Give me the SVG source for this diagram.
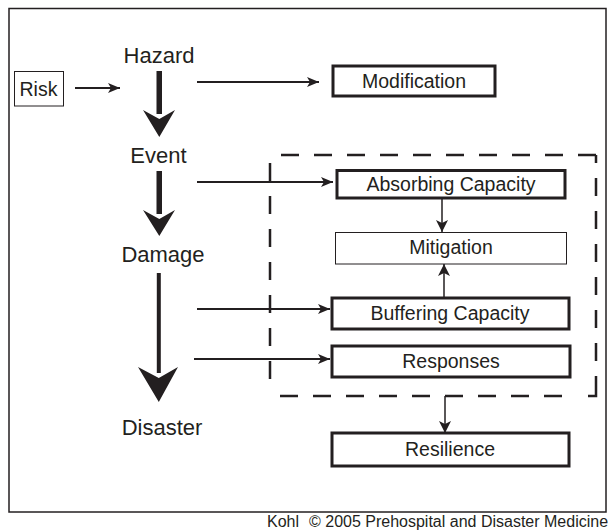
<svg xmlns="http://www.w3.org/2000/svg" width="608" height="531" viewBox="0 0 608 531">
<style>
  text { font-family: "Liberation Sans", Arial, sans-serif; fill: #231f20; }
  .stage { font-size: 22px; text-anchor: middle; }
  .lbl { font-size: 19.5px; text-anchor: middle; }
  .box { fill: #fff; stroke: #231f20; stroke-width: 3; }
  .thin { fill: #fff; stroke: #231f20; stroke-width: 1; }
  .harrow { stroke: #231f20; stroke-width: 2.2; fill: none; marker-end: url(#ah); }
  .varrow { stroke: #231f20; stroke-width: 1.5; fill: none; marker-end: url(#av); }
  .dash { stroke: #231f20; stroke-width: 2.5; fill: none; stroke-dasharray: 18 15; }
  .big { fill: #231f20; }
</style>
<defs>
  <marker id="ah" viewBox="0 0 12 10" refX="12" refY="5" markerWidth="12" markerHeight="10" markerUnits="userSpaceOnUse" orient="auto">
    <path d="M0,0 L12,5 L0,10 L3,5 Z" fill="#231f20"/>
  </marker>
  <marker id="av" viewBox="0 0 12 12" refX="12" refY="6" markerWidth="12" markerHeight="12" markerUnits="userSpaceOnUse" orient="auto">
    <path d="M0,0 L12,6 L0,12 L3,6 Z" fill="#231f20"/>
  </marker>
</defs>
<rect x="0" y="0" width="608" height="531" fill="#fff"/>
<rect id="frame" x="9" y="8.5" width="597" height="503.5" fill="none" stroke="#231f20" stroke-width="1.5"/>

<g id="risk">
  <rect x="14.5" y="71.5" width="49" height="34.5" class="thin"/>
  <text x="38.5" y="96" class="lbl">Risk</text>
</g>
<g id="hazard"><text x="159" y="63" class="stage">Hazard</text></g>
<g id="event"><text x="158.5" y="163" class="stage">Event</text></g>
<g id="damage"><text x="163" y="262" class="stage">Damage</text></g>
<g id="disaster"><text x="162" y="435" class="stage">Disaster</text></g>

<g id="modification">
  <rect x="333" y="66" width="162" height="30" class="box"/>
  <text x="414" y="87.5" class="lbl">Modification</text>
</g>
<g id="absorbing">
  <rect x="337" y="170.5" width="228" height="27.5" class="box"/>
  <text x="451" y="191" class="lbl">Absorbing Capacity</text>
</g>
<g id="mitigation">
  <rect x="335.5" y="232.5" width="231" height="31.5" class="thin"/>
  <text x="451" y="254" class="lbl">Mitigation</text>
</g>
<g id="buffering">
  <rect x="332" y="298" width="237" height="31" class="box"/>
  <text x="450" y="320" class="lbl">Buffering Capacity</text>
</g>
<g id="responses">
  <rect x="332" y="346" width="238" height="31" class="box"/>
  <text x="451" y="368" class="lbl">Responses</text>
</g>
<g id="resilience">
  <rect x="332" y="433" width="237" height="33" class="box"/>
  <text x="450" y="456" class="lbl">Resilience</text>
</g>

<g id="dashed-group">
  <path d="M596,155 H270" class="dash"/>
  <path d="M596,155 V394" class="dash" stroke-dashoffset="10"/>
  <path d="M596,394 V396 H588" fill="none" stroke="#231f20" stroke-width="2.5"/>
  <path d="M562,396 H270" class="dash"/>
  <path d="M270,163 V388" class="dash"/>
</g>

<g id="connectors">
  <line x1="75" y1="88" x2="120" y2="88" class="harrow"/>
  <line x1="197" y1="82" x2="319" y2="82" class="harrow"/>
  <line x1="197" y1="182" x2="333" y2="182" class="harrow"/>
  <line x1="197" y1="309" x2="330" y2="309" class="harrow"/>
  <line x1="194" y1="359" x2="330" y2="359" class="harrow"/>
  <line x1="442" y1="198" x2="442" y2="232" class="varrow"/>
  <line x1="444" y1="298" x2="444" y2="264" class="varrow"/>
  <line x1="445" y1="396" x2="445" y2="433" class="varrow"/>
  <rect x="156.5" y="71" width="5.5" height="43" class="big"/>
  <path d="M143,110 L159.3,119 L175,110 L159.3,137 Z" class="big"/>
  <rect x="156.5" y="171" width="5.5" height="43" class="big"/>
  <path d="M143,210 L159.3,219 L175,210 L159.3,236 Z" class="big"/>
  <rect x="156.8" y="273" width="4" height="100" class="big"/>
  <path d="M138,367 L158.8,378 L178,367 L158.8,402 Z" class="big"/>
</g>

<text x="267" y="527" font-size="16">Kohl</text>
<text x="309" y="527" font-size="16">© 2005 Prehospital and Disaster Medicine</text>
</svg>
